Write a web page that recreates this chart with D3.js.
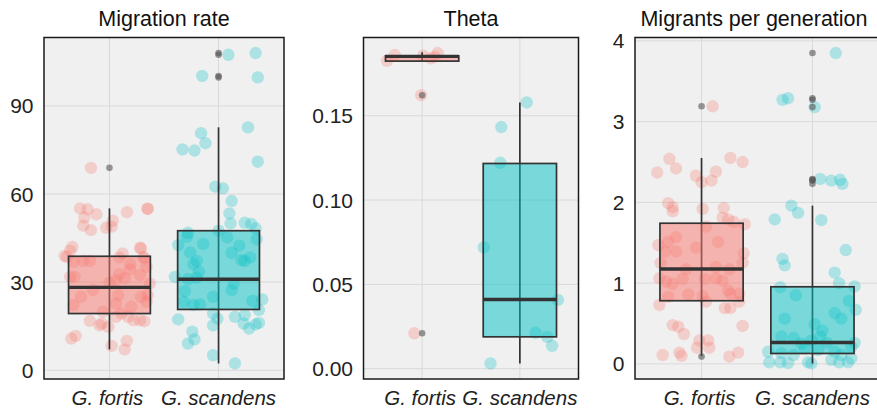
<!DOCTYPE html>
<html>
<head>
<meta charset="utf-8">
<script src="https://cdn.jsdelivr.net/npm/d3@7"></script>
<style>
  body { margin: 0; background: #fff; }
  svg { display: block; font-family: "Liberation Sans", Arial, sans-serif; }
</style>
</head>
<body>
<svg id="chart" width="877" height="412"></svg>
<script>
// groups and panels
var groups = ["G. fortis", "G. scandens"];
var titles = ["Migration rate", "Theta", "Migrants per generation"];

// tick values per panel
var rateTicks = [0, 30, 60, 90];
var thetaTicks = [0, 0.05, 0.10, 0.15];
var migrantTicks = [0, 1, 2, 3, 4];

// box stats: [whisker low, q1, median, q3, whisker high]
var rateBoxFortis = [7.1, 19.3, 28.2, 38.8, 55.1];
var rateBoxScandens = [2.3, 20.7, 31.0, 47.5, 82.7];
var thetaBoxFortis = [0.1824, 0.1824, 0.1852, 0.1855, 0.1876];
var thetaBoxScandens = [0.0031, 0.0189, 0.0410, 0.1217, 0.1579];
var migrantBoxFortis = [0.096, 0.782, 1.175, 1.742, 2.55];
var migrantBoxScandens = [0.005, 0.129, 0.265, 0.955, 1.96];

// points: [jitter (category units), value]
var rateFortis = [
  [-0.27,55.1],[-0.20,54.8],[-0.12,53.1],[-0.23,52.0],[0.16,53.8],[0.35,55.0],[0.35,54.9],
  [-0.24,49.2],[-0.17,47.7],[-0.03,48.5],[0.03,50.9],[0.02,48.9],[-0.17,68.9],
  [-0.34,42.0],[-0.36,40.7],[-0.39,38.6],[-0.33,36.9],[-0.24,37.2],[-0.18,37.2],[-0.41,38.9],
  [0.12,39.8],[0.09,38.4],[0.19,36.1],[0.19,34.3],[0.29,41.5],[0.32,38.1],[0.34,35.2],
  [0.28,32.4],[0.28,41.7],[0.31,38.6],[-0.36,31.8],[-0.32,31.8],[0.09,32.7],[0.14,31.3],
  [0.06,30.7],[0.00,29.8],[-0.15,27.3],[0.37,29.5],[0.08,25.6],[0.29,25.0],[0.35,25.6],
  [-0.26,25.0],[-0.33,22.2],[0.06,22.7],[0.20,21.6],[0.34,23.3],[-0.06,19.9],[0.11,19.3],
  [0.17,18.2],[-0.18,16.8],[-0.07,15.9],[-0.01,14.8],[0.06,18.2],[0.22,17.0],[0.32,16.7],
  [0.28,17.0],[-0.09,15.3],[-0.35,10.8],[-0.31,11.7],[0.02,8.3],[0.14,7.1],[0.16,10.0]
];
var rateScandens = [
  [-0.03,62.5],[0.04,61.9],[0.12,57.6],[0.10,53.4],[0.11,50.0],[0.24,50.2],[0.30,49.8],
  [0.34,48.3],[0.35,44.6],[0.00,47.5],[0.08,45.2],[-0.28,46.8],[-0.29,45.5],[-0.37,42.6],
  [-0.14,43.0],[-0.26,40.1],[0.12,40.0],[0.19,42.4],[0.21,37.5],[0.29,38.4],[0.24,37.2],
  [-0.20,37.2],[-0.23,36.1],[-0.18,33.5],[-0.40,31.8],[-0.28,31.0],[-0.20,31.5],[0.14,29.5],
  [0.12,27.3],[-0.31,26.9],[-0.05,25.0],[-0.32,23.3],[-0.23,22.2],[-0.17,22.4],[-0.05,19.3],
  [-0.01,17.6],[-0.05,15.3],[-0.37,17.3],[0.15,18.2],[0.24,18.8],[0.31,23.6],[0.40,24.1],
  [0.37,20.5],[0.23,15.9],[0.28,14.2],[0.34,15.6],[0.37,16.1],[-0.24,13.1],[-0.22,10.5],
  [-0.28,9.1],[-0.05,5.1],[0.15,2.3],[0.09,107.4],[0.34,108.0],[-0.15,100.2],[0.36,99.7],
  [0.27,82.7],[-0.16,80.7],[-0.12,77.3],[-0.33,75.2],[-0.22,74.8],[0.36,71.0]
];
var thetaFortis = [
  [-0.36,0.1826],[-0.28,0.1860],[0.01,0.1856],[0.09,0.1840],[0.13,0.1850],[0.16,0.1872],
  [-0.01,0.1622],[-0.08,0.0210]
];
var thetaScandens = [
  [0.07,0.1579],[-0.19,0.1433],[-0.20,0.1221],[-0.37,0.0719],[0.39,0.0408],[0.16,0.0213],
  [0.28,0.0189],[0.33,0.0136],[-0.30,0.0031]
];
var migrantFortis = [
  [0.10,3.19],[-0.29,2.54],[-0.23,2.42],[-0.40,2.37],[-0.05,2.33],[0.00,2.25],[0.09,2.27],
  [0.13,2.38],[0.26,2.55],[0.37,2.50],[-0.30,1.99],[-0.26,1.94],[-0.26,1.89],[0.01,1.92],
  [0.20,1.93],[0.19,1.81],[0.24,1.79],[0.29,1.76],[0.39,1.73],[0.04,1.70],[-0.39,1.47],
  [-0.30,1.51],[-0.23,1.57],[-0.23,1.39],[-0.33,1.39],[-0.05,1.44],[0.15,1.51],[0.38,1.37],
  [-0.37,1.25],[0.37,1.25],[-0.14,1.17],[0.13,1.20],[0.25,1.17],[-0.38,1.06],[-0.32,1.02],
  [-0.26,0.99],[-0.17,1.05],[0.03,1.05],[0.13,1.06],[0.19,1.03],[0.24,0.91],[0.26,0.87],
  [0.34,0.87],[-0.12,0.86],[0.01,0.84],[-0.30,0.83],[-0.38,0.73],[0.04,0.77],[0.21,0.69],
  [0.26,0.69],[0.34,0.77],[-0.26,0.48],[-0.21,0.46],[-0.16,0.37],[0.37,0.47],[-0.02,0.29],
  [0.06,0.29],[-0.04,0.20],[0.07,0.20],[-0.35,0.11],[-0.20,0.14],[-0.18,0.10],[0.25,0.09],
  [0.33,0.14]
];
var migrantScandens = [
  [0.21,3.85],[-0.27,3.27],[-0.22,3.29],[0.02,3.18],[0.07,2.29],[0.17,2.27],[0.25,2.28],
  [0.27,2.23],[-0.19,1.96],[-0.13,1.87],[-0.34,1.79],[0.08,1.78],[0.30,1.41],[-0.27,1.30],
  [-0.25,1.22],[0.20,1.13],[0.24,1.00],[0.38,0.96],[-0.29,0.95],[-0.15,0.85],[0.33,0.78],
  [0.39,0.67],[0.20,0.63],[0.26,0.56],[-0.25,0.56],[0.02,0.49],[0.09,0.41],[0.07,0.34],
  [-0.28,0.34],[-0.17,0.32],[-0.10,0.25],[-0.01,0.29],[0.13,0.26],[0.38,0.26],[0.35,0.21],
  [-0.40,0.15],[-0.28,0.13],[-0.17,0.11],[-0.07,0.19],[0.05,0.17],[0.20,0.15],[0.26,0.11],
  [-0.39,0.02],[-0.29,0.02],[-0.22,0.01],[-0.04,0.02],[-0.01,0.005],[0.17,0.05],[0.24,0.02],
  [0.32,0.02],[0.35,0.07]
];

var colors = ["#F8766D", "#00BFC4"];

var panels = [
  {x0: 44, x1: 284, ticks: rateTicks, fmt: d3.format("d"),
   boxes: [rateBoxFortis, rateBoxScandens], pts: [rateFortis, rateScandens]},
  {x0: 363.5, x1: 578.5, ticks: thetaTicks, fmt: d3.format(".2f"),
   boxes: [thetaBoxFortis, thetaBoxScandens], pts: [thetaFortis, thetaScandens]},
  {x0: 635, x1: 879, ticks: migrantTicks, fmt: d3.format("d"),
   boxes: [migrantBoxFortis, migrantBoxScandens], pts: [migrantFortis, migrantScandens]}
];

var svg = d3.select("#chart");
var panelTop = 37.5, panelBottom = 379;

panels.forEach(function(p, pi){
  var all = p.pts[0].concat(p.pts[1]).map(function(d){ return d[1]; });
  var ext = d3.extent(all);
  var pad = (ext[1] - ext[0]) * 0.05;
  var y = d3.scaleLinear().domain([ext[0] - pad, ext[1] + pad]).range([panelBottom, panelTop]);
  var x = d3.scaleLinear().domain([0.4, 2.6]).range([p.x0, p.x1]);
  var bw = 0.75 * (x(2) - x(1));

  var g = svg.append("g");

  g.append("rect")
    .attr("x", p.x0).attr("y", panelTop)
    .attr("width", p.x1 - p.x0).attr("height", panelBottom - panelTop)
    .attr("fill", "#f0f0f0");

  //grid
  g.selectAll(".hgrid").data(p.ticks).enter().append("line")
    .attr("x1", p.x0).attr("x2", p.x1)
    .attr("y1", function(d){ return y(d); }).attr("y2", function(d){ return y(d); })
    .attr("stroke", "#d9d9d9").attr("stroke-width", 1);
  g.selectAll(".vgrid").data(groups).enter().append("line")
    .attr("x1", function(d, i){ return x(i + 1); }).attr("x2", function(d, i){ return x(i + 1); })
    .attr("y1", panelTop).attr("y2", panelBottom)
    .attr("stroke", "#d9d9d9").attr("stroke-width", 1);

  p.boxes.forEach(function(b, gi){
    var cx = x(gi + 1);
    var pts = p.pts[gi];

    //jittered points go under the box
    g.selectAll(".pt" + gi).data(pts).enter().append("circle")
      .attr("cx", function(d){ return x(gi + 1 + d[0]); })
      .attr("cy", function(d){ return y(d[1]); })
      .attr("r", 6.2)
      .attr("fill", colors[gi])
      .attr("fill-opacity", 0.28);

    g.append("line")
      .attr("x1", cx).attr("x2", cx)
      .attr("y1", y(b[4])).attr("y2", y(b[0]))
      .attr("stroke", "#333").attr("stroke-width", 1.7);

    g.append("rect")
      .attr("x", cx - bw / 2).attr("width", bw)
      .attr("y", y(b[3])).attr("height", y(b[1]) - y(b[3]))
      .attr("fill", colors[gi]).attr("fill-opacity", 0.5)
      .attr("stroke", "#333").attr("stroke-width", 1.7);

    g.append("line")
      .attr("x1", cx - bw / 2).attr("x2", cx + bw / 2)
      .attr("y1", y(b[2])).attr("y2", y(b[2]))
      .attr("stroke", "#333").attr("stroke-width", 3.4);

    //outliers are the points beyond the whiskers
    var outs = pts.filter(function(d){ return d[1] > b[4] + 1e-9 || d[1] < b[0] - 1e-9; });
    g.selectAll(".out" + gi).data(outs).enter().append("circle")
      .attr("cx", cx)
      .attr("cy", function(d){ return y(d[1]); })
      .attr("r", 3.3)
      .attr("fill", "#555")
      .attr("fill-opacity", 0.6);
  });

  g.append("rect")
    .attr("x", p.x0).attr("y", panelTop)
    .attr("width", p.x1 - p.x0).attr("height", panelBottom - panelTop)
    .attr("fill", "none").attr("stroke", "#1a1a1a").attr("stroke-width", 1.5);

  g.selectAll(".ytick").data(p.ticks).enter().append("text")
    .attr("x", p.x0 - 10.5)
    .attr("y", function(d){ return y(d); })
    .attr("dy", "0.36em")
    .attr("text-anchor", "end")
    .attr("font-size", 21)
    .attr("fill", "#222")
    .text(p.fmt);

  g.selectAll(".xlab").data(groups).enter().append("text")
    .attr("x", function(d, i){ return x(i + 1) + (i == 0 ? -2 : 0); })
    .attr("y", 404.5)
    .attr("text-anchor", "middle")
    .attr("font-size", 20.5)
    .attr("font-style", "italic")
    .attr("fill", "#222")
    .text(function(d){ return d; });

  g.append("text")
    .attr("x", (p.x0 + Math.min(p.x1, 877)) / 2 + (pi == 2 ? -2 : 0))
    .attr("y", 25.5)
    .attr("text-anchor", "middle")
    .attr("font-size", 21.5)
    .attr("fill", "#111")
    .text(titles[pi]);
});
</script>
</body>
</html>
